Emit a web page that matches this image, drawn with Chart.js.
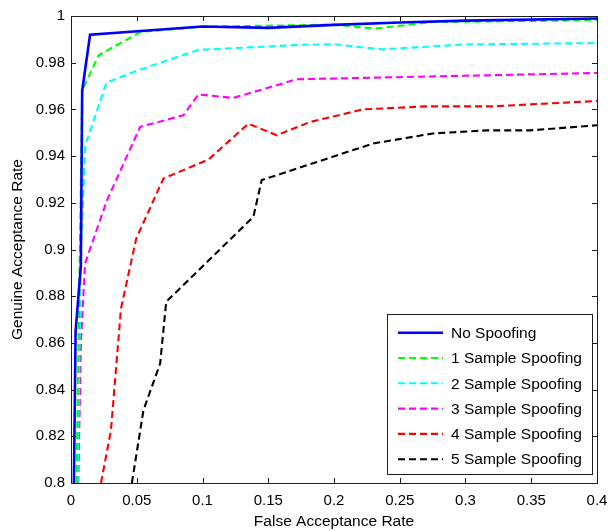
<!DOCTYPE html>
<html>
<head>
<meta charset="utf-8">
<title>ROC curves under spoofing</title>
<script src="https://cdn.jsdelivr.net/npm/chart.js@4/dist/chart.umd.min.js"></script>
<style>
  html, body { margin: 0; padding: 0; background: #fff; }
  canvas { display: block; }
</style>
</head>
<body>
<canvas id="roc" width="608" height="531"></canvas>
<script>
'use strict';

// axis ranges and tick steps
var X_MIN = 0, X_MAX = 0.4, X_STEP = 0.05;
var Y_MIN = 0.8, Y_MAX = 1, Y_STEP = 0.02;

var seriesNames = ['No Spoofing', '1 Sample Spoofing', '2 Sample Spoofing',
    '3 Sample Spoofing', '4 Sample Spoofing', '5 Sample Spoofing'];

// false acceptance rate / genuine acceptance rate per curve
var noSpoofFar = [0.0022, 0.0035, 0.0075, 0.0085, 0.0145, 0.1, 0.15, 0.2, 0.25, 0.3, 0.4];
var noSpoofGar = [0.8, 0.865, 0.893, 0.968, 0.992, 0.9955, 0.9949, 0.9962, 0.9972, 0.998, 0.9989];

var spoof1Far = [0.0042, 0.0068, 0.0085, 0.021, 0.053, 0.1, 0.2, 0.231, 0.275, 0.4];
var spoof1Gar = [0.8, 0.9, 0.968, 0.9832, 0.9932, 0.9954, 0.9963, 0.9946, 0.9974, 0.9982];

var spoof2Far = [0.005, 0.0075, 0.0109, 0.027, 0.0513, 0.097, 0.177, 0.2, 0.236, 0.298, 0.4];
var spoof2Gar = [0.8, 0.9, 0.9447, 0.9715, 0.9768, 0.9855, 0.9877, 0.9879, 0.9857, 0.9878, 0.9884];

var spoof3Far = [0.0055, 0.0076, 0.0107, 0.0273, 0.0526, 0.0855, 0.0969, 0.1235, 0.1716, 0.4];
var spoof3Gar = [0.8, 0.861, 0.894, 0.921, 0.9525, 0.9575, 0.9664, 0.9649, 0.9729, 0.9756];

var spoof4Far = [0.0228, 0.0304, 0.038, 0.0496, 0.0703, 0.1045, 0.1349, 0.1564, 0.1817, 0.222, 0.27, 0.32, 0.4];
var spoof4Gar = [0.8, 0.8226, 0.8747, 0.9047, 0.9304, 0.9385, 0.9539, 0.9489, 0.9546, 0.96, 0.9613, 0.9613, 0.9636];

var spoof5Far = [0.0463, 0.0551, 0.0678, 0.0724, 0.1387, 0.145, 0.2298, 0.2753, 0.3159, 0.3488, 0.4];
var spoof5Gar = [0.8, 0.8312, 0.8512, 0.8776, 0.914, 0.9297, 0.9454, 0.9497, 0.951, 0.951, 0.9532];

var FONT = '"Liberation Sans", Arial, sans-serif';
var FRAME = '#1e1e1e';

function points(far, gar) {
    return far.map(function (x, i) { return { x: x, y: gar[i] }; });
}

function curve(idx, far, gar, color, solid) {
    return {
        label: seriesNames[idx],
        data: points(far, gar),
        borderColor: color,
        backgroundColor: color,
        borderWidth: solid ? 2.6 : 2.1,
        borderDash: solid ? [] : [7, 4],
        pointRadius: 0,
        showLine: true,
        tension: 0,
        fill: false
    };
}

function fmt(v) {
    return String(+Number(v).toFixed(2));
}

// box around the axes with inward ticks on all four sides
var axesBox = {
    id: 'axesBox',
    afterDraw: function (chart) {
        var ctx = chart.ctx, a = chart.chartArea;
        var xs = chart.scales.x, ys = chart.scales.y;
        var len = 5;
        ctx.save();
        ctx.strokeStyle = FRAME;
        ctx.lineWidth = 1;
        ctx.beginPath();
        xs.ticks.forEach(function (t) {
            var px = Math.round(xs.getPixelForValue(t.value)) + 0.5;
            ctx.moveTo(px, a.bottom); ctx.lineTo(px, a.bottom - len);
            ctx.moveTo(px, a.top); ctx.lineTo(px, a.top + len);
        });
        ys.ticks.forEach(function (t) {
            var py = Math.round(ys.getPixelForValue(t.value)) + 0.5;
            ctx.moveTo(a.left, py); ctx.lineTo(a.left + len, py);
            ctx.moveTo(a.right, py); ctx.lineTo(a.right - len, py);
        });
        ctx.stroke();
        ctx.strokeRect(Math.round(a.left) + 0.5, Math.round(a.top) + 0.5,
            Math.round(a.right - a.left), Math.round(a.bottom - a.top));
        ctx.restore();
    }
};

// boxed legend in the lower right corner of the axes
var boxLegend = {
    id: 'boxLegend',
    afterDatasetsDraw: function (chart) {
        var ctx = chart.ctx, a = chart.chartArea;
        var right = a.right - 5, bottom = a.bottom - 9;
        var w = 205, h = 160, left = right - w, top = bottom - h;
        var rowH = 25.3, firstRow = top + 18.7;
        ctx.save();
        ctx.fillStyle = '#fff';
        ctx.fillRect(left, top, w, h);
        ctx.strokeStyle = FRAME;
        ctx.lineWidth = 1;
        ctx.strokeRect(Math.round(left) + 0.5, Math.round(top) + 0.5, w, h);
        ctx.font = '15.5px ' + FONT;
        ctx.textBaseline = 'middle';
        chart.data.datasets.forEach(function (ds, i) {
            var y = firstRow + i * rowH;
            ctx.strokeStyle = ds.borderColor;
            ctx.lineWidth = ds.borderWidth;
            ctx.setLineDash(ds.borderDash);
            ctx.beginPath();
            ctx.moveTo(left + 11, y);
            ctx.lineTo(left + 56, y);
            ctx.stroke();
            ctx.setLineDash([]);
            ctx.fillStyle = '#000';
            ctx.fillText(ds.label, left + 64, y + 1);
        });
        ctx.restore();
    }
};

var datasets = [
    curve(0, noSpoofFar, noSpoofGar, '#0000ff', true),
    curve(1, spoof1Far, spoof1Gar, '#00ff00', false),
    curve(2, spoof2Far, spoof2Gar, '#00ffff', false),
    curve(3, spoof3Far, spoof3Gar, '#ff00ff', false),
    curve(4, spoof4Far, spoof4Gar, '#ff0000', false),
    curve(5, spoof5Far, spoof5Gar, '#000000', false)
];

new Chart(document.getElementById('roc').getContext('2d'), {
    type: 'scatter',
    data: { datasets: datasets },
    options: {
        responsive: false,
        animation: false,
        devicePixelRatio: 1,
        layout: { padding: { top: 16, right: 11, bottom: 0, left: 0 } },
        plugins: {
            legend: { display: false },
            tooltip: { enabled: false }
        },
        scales: {
            x: {
                type: 'linear',
                min: X_MIN,
                max: X_MAX,
                grid: { display: false, drawTicks: false },
                border: { display: false },
                ticks: {
                    stepSize: X_STEP,
                    padding: 9,
                    maxRotation: 0,
                    autoSkip: false,
                    color: '#000',
                    font: { family: FONT, size: 15 },
                    callback: fmt
                },
                title: {
                    display: true,
                    text: 'False Acceptance Rate',
                    color: '#000',
                    font: { family: FONT, size: 15.5 },
                    padding: { top: 0, bottom: 0 }
                },
                afterFit: function (s) {
                    s.height = 48;
                    s.paddingLeft = 0;
                    s.paddingRight = 0;
                }
            },
            y: {
                type: 'linear',
                min: Y_MIN,
                max: Y_MAX,
                grid: { display: false, drawTicks: false },
                border: { display: false },
                ticks: {
                    stepSize: Y_STEP,
                    padding: 6,
                    autoSkip: false,
                    color: '#000',
                    font: { family: FONT, size: 15 },
                    callback: fmt
                },
                title: {
                    display: true,
                    text: 'Genuine Acceptance Rate',
                    color: '#000',
                    font: { family: FONT, size: 15.5 },
                    padding: { top: 8, bottom: 0 }
                },
                afterFit: function (s) {
                    s.width = 71;
                    s.paddingTop = 0;
                    s.paddingBottom = 0;
                }
            }
        }
    },
    plugins: [boxLegend, axesBox]
});
</script>
</body>
</html>
